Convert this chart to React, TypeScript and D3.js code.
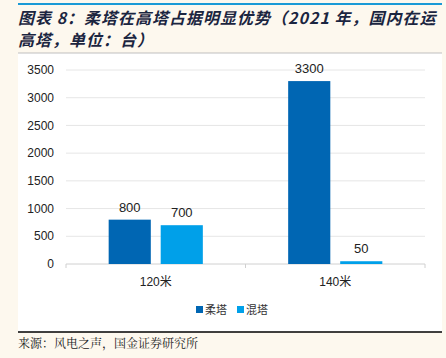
import React from "react";
import * as d3 from "d3";

const categories = ["120米", "140米"];
const seriesNames = ["柔塔", "混塔"];
const rouTa = [800, 3300];
const hunTa = [700, 50];
const yTicks = [0, 500, 1000, 1500, 2000, 2500, 3000, 3500];
const colors = ["#0066b3", "#00a0e9"];

export default function App() {
  const W = 446, H = 358;
  const left = 66, right = 425, top = 70, bottom = 264;
  const x0 = d3.scaleBand().domain(categories).range([left, right]);
  const x1 = d3.scaleBand().domain(seriesNames).range([0, x0.bandwidth()]).paddingInner(0.19).paddingOuter(0.82);
  const y = d3.scaleLinear().domain([0, 3500]).range([bottom, top]);
  const series = [rouTa, hunTa];
  const sans = "Liberation Sans, Arial, sans-serif";
  const cjk = "Noto Sans CJK SC, sans-serif";
  return (
    <svg width={W} height={H} style={{ position: "absolute", left: 0, top: 0 }}>
      <rect x={0} y={0} width={W} height={H} fill="#fdf8ee" />
      <line x1={18} x2={442} y1={4} y2={4} stroke="#1a9ad6" strokeWidth={2} />
      <g fontFamily={cjk} fontStyle="italic" fontWeight="bold" fontSize={16} fill="#1b2540" letterSpacing={1}>
        <text x={18} y={24}>图表 8：柔塔在高塔占据明显优势（2021 年，国内在运</text>
        <text x={18} y={46}>高塔，单位：台）</text>
      </g>
      <rect x={18} y={53} width={424} height={279} fill="#ffffff" />
      <line x1={18} x2={442} y1={53} y2={53} stroke="#bfbfbf" strokeWidth={1} />
      {yTicks.map((t) => (
        <g key={t}>
          <line x1={left} x2={right} y1={y(t)} y2={y(t)} stroke={t === 0 ? "#d0d0d0" : "#e6e6e6"} strokeWidth={1} />
          <text x={54} y={y(t)} dy="0.35em" textAnchor="end" fontFamily={sans} fontSize={12} fill="#222">{t}</text>
        </g>
      ))}
      {[left, left + x0.bandwidth(), right].map((v, i) => (
        <line key={i} x1={v} x2={v} y1={bottom} y2={bottom + 4} stroke="#d0d0d0" />
      ))}
      {categories.map((c, ci) => (
        <g key={c}>
          {seriesNames.map((s, si) => {
            const v = series[si][ci];
            const bx = (x0(c) as number) + (x1(s) as number);
            return (
              <g key={s}>
                <rect x={bx} y={y(v)} width={x1.bandwidth()} height={bottom - y(v)} fill={colors[si]} />
                <text x={bx + x1.bandwidth() / 2} y={y(v) - 8} textAnchor="middle" fontFamily={sans} fontSize={13} fill="#222">{v}</text>
              </g>
            );
          })}
          <text x={(x0(c) as number) + x0.bandwidth() / 2} y={286} textAnchor="middle" fontFamily={sans} fontSize={12} fill="#222">
            <tspan>{c.slice(0, 3)}</tspan><tspan fontFamily={cjk}>{c.slice(3)}</tspan>
          </text>
        </g>
      ))}
      <g fontFamily={cjk} fontSize={11} fill="#333">
        <rect x={196} y={306} width={7} height={7} fill={colors[0]} />
        <text x={205} y={313.5}>{seriesNames[0]}</text>
        <rect x={237} y={306} width={7} height={7} fill={colors[1]} />
        <text x={246} y={313.5}>{seriesNames[1]}</text>
      </g>
      <line x1={18} x2={442} y1={332} y2={332} stroke="#000" strokeWidth={1.5} />
      <text x={18} y={348} fontFamily="Noto Serif CJK SC, Noto Sans CJK SC, serif" fontSize={12} fill="#222">来源：风电之声，国金证券研究所</text>
    </svg>
  );
}
